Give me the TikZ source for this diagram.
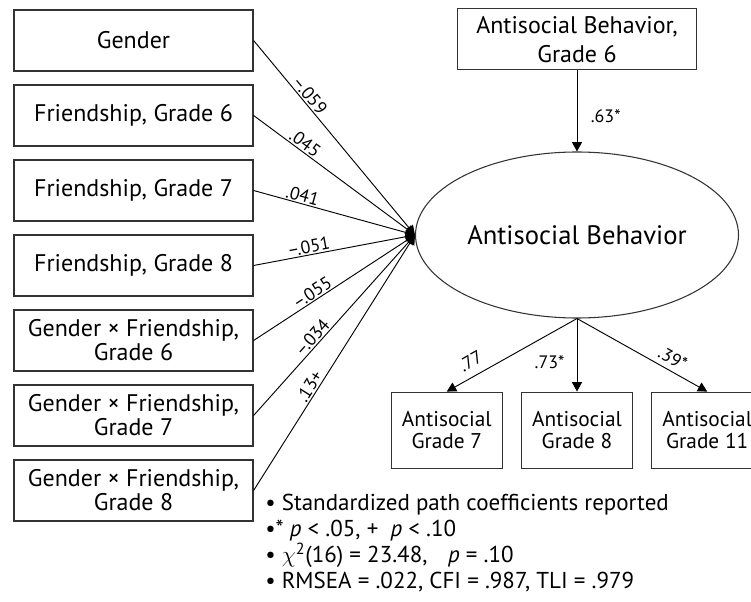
\documentclass[tikz,border=0pt]{standalone}
\usepackage{fontspec}
\setmainfont{PT Sans}
\usepackage{tikz}
\usetikzlibrary{positioning,arrows.meta,shapes.geometric}
\tikzset{
  node-box/.style={draw=black!80,line width=0.9pt,minimum width=179.25pt,
    minimum height=45.75pt,align=center,inner sep=2pt,
    font=\fontsize{18}{18}\selectfont},
  node-small/.style={draw=black!80,line width=0.9pt,minimum width=83.25pt,
    minimum height=57pt,align=center,inner sep=1pt,
    font=\fontsize{16}{16.5}\selectfont},
  node-latent/.style={draw=black!80,line width=0.8pt,ellipse,
    minimum width=232.5pt,minimum height=124.5pt,
    font=\fontsize{20}{24}\selectfont},
  node-note/.style={align=left,inner sep=0pt,
    font=\fontsize{17.25}{19.5}\selectfont},
  arrow/.style={-{Triangle[length=7pt,width=7.5pt]},line width=0.7pt},
  coef/.style={font=\fontsize{13.5}{14}\selectfont,sloped,above,inner sep=1pt},
}
\begin{document}
\begin{tikzpicture}[x=0.75pt,y=-0.75pt,node distance=9.6pt]
  \useasboundingbox (0,0) rectangle (751,602);
  \clip (0,0) rectangle (751,602);
  % predictors
  \node[node-box] (gen) at (133.5,40.5) {Gender};
  \node[node-box,below=of gen] (fr6) {Friendship, Grade 6};
  \node[node-box,below=of fr6] (fr7) {Friendship, Grade 7};
  \node[node-box,below=of fr7] (fr8) {Friendship, Grade 8};
  \node[node-box,below=of fr8] (gx6) {Gender × Friendship,\\Grade 6};
  \node[node-box,below=of gx6] (gx7) {Gender × Friendship,\\Grade 7};
  \node[node-box,below=of gx7] (gx8) {Gender × Friendship,\\Grade 8};
  % outcome
  \node[node-latent] (ab) at (577,235) {Antisocial Behavior};
  \node[node-box,above=60.75pt of ab,font=\fontsize{18}{21.75}\selectfont]
    (ab6) {Antisocial Behavior,\\Grade 6};
  \node[node-small,below=54.75pt of ab] (as8) {Antisocial\\Grade 8};
  \node[node-small,left=13.5pt of as8] (as7) {Antisocial\\Grade 7};
  \node[node-small,right=13.5pt of as8] (as11) {Antisocial\\Grade 11};
  % paths
  \foreach \src/\val/\p in {gen/--.059/0.31,fr6/.045/0.29,fr7/.041/0.29,
    fr8/--.051/0.35,gx6/--.055/0.39,gx7/--.034/0.40,gx8/.13+/0.39}
    \draw[arrow] (\src.east) -- node[coef,pos=\p] {\val} (ab.west);
  \draw[arrow] (ab6) -- node[coef,sloped=false,right=9pt,pos=0.57] {.63*} (ab);
  \draw[arrow] (ab.south) -- node[coef,pos=0.76,above=5pt] {.77} (as7.north);
  \draw[arrow] (ab.south) -- node[coef,sloped=false,left=8pt,pos=0.6] {.73*} (as8.north);
  \draw[arrow] (ab.south) -- node[coef,pos=0.69,above=3pt] {.39*} (as11.north);
  % notes
  \node[node-note,anchor=north west] (notes) at (265,494)
    {• Standardized path coefficients reported\\
     •* \textit{p} < .05, +\ \ \textit{p} < .10\\
     • $\chi$\textsuperscript{2}(16) = 23.48,\hspace{0.9em}\textit{p} = .10\\
     • RMSEA = .022, CFI = .987, TLI = .979};
\end{tikzpicture}
\end{document}
